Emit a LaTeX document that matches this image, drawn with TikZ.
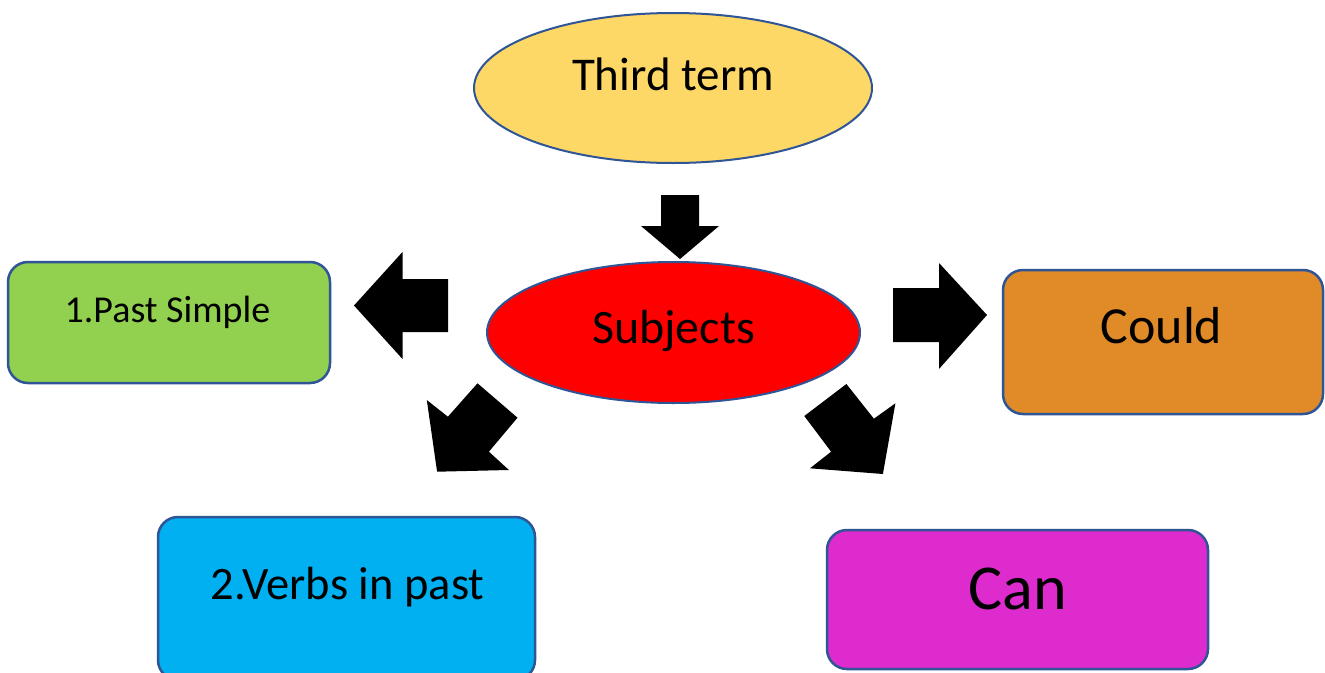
\documentclass[tikz,border=0pt]{standalone}
\usepackage{fontspec}
\setmainfont{Carlito}
\usetikzlibrary{shapes.geometric}
\definecolor{bordblue}{HTML}{2F5597}
\definecolor{cyellow}{HTML}{FDD866}
\definecolor{cred}{HTML}{FF0000}
\definecolor{cgreen}{HTML}{92D050}
\definecolor{corange}{HTML}{E08A28}
\definecolor{cblue}{HTML}{00B0F0}
\definecolor{cmag}{HTML}{DD2BCD}
\tikzset{
  oval/.style={ellipse, draw=bordblue, line width=2pt, inner sep=0pt},
  rbox/.style={rectangle, rounded corners=20pt, draw=bordblue, line width=2.5pt, inner sep=0pt},
  lbl/.style={anchor=base, inner sep=0pt, text=black},
  blockarrow/.style={fill=black, draw=none}
}
\begin{document}
\begin{tikzpicture}[x=1pt,y=-1pt]
\useasboundingbox (0,0) rectangle (1325,672);
\clip (0,0) rectangle (1325,672);
\fill[white] (0,0) rectangle (1325,672);
% shapes
\node[oval, fill=cyellow, minimum width=398pt, minimum height=150pt] (third) at (673,88) {};
\node[oval, fill=cred, minimum width=373pt, minimum height=141pt] (subj) at (673.5,332.5) {};
\node[rbox, fill=cgreen, minimum width=322pt, minimum height=121pt] (past) at (169,322.5) {};
\node[rbox, fill=corange, minimum width=320pt, minimum height=144pt] (could) at (1163,342) {};
\node[rbox, fill=cblue, minimum width=377pt, minimum height=163pt] (verbs) at (346.5,598.5) {};
\node[rbox, fill=cmag, minimum width=381pt, minimum height=139pt] (can) at (1017.5,599.5) {};
% texts
\node[lbl, font=\fontsize{47}{50}\selectfont] (thirdt) at ([yshift=-2pt]third.center) {Third term};
\node[lbl, font=\fontsize{48}{52}\selectfont] (subjt) at ([yshift=-10.5pt]subj.center) {Subjects};
\node[lbl, font=\fontsize{38}{42}\selectfont] (pastt) at ([xshift=-1.5pt,yshift=0.5pt]past.center) {1.Past Simple};
\node[lbl, font=\fontsize{52}{56}\selectfont] (couldt) at ([xshift=-1.5pt,yshift=-1pt]could.center) {Could};
\node[lbl, font=\fontsize{46.5}{50}\selectfont] (verbst) at ([xshift=1pt,yshift=-0.5pt]verbs.center) {2.Verbs in past};
\node[lbl, font=\fontsize{64}{68}\selectfont] (cant) at ([yshift=-9.5pt]can.center) {Can};
% block arrows
\fill[blockarrow] (661,195) -- (699,195) -- (699,226) -- (719,226) -- (680,259) -- (641,226) -- (661,226) -- cycle;
\fill[blockarrow] (448,279) -- (448,332) -- (402.5,332) -- (402.5,359) -- (354,305.5) -- (402.5,252) -- (402.5,279) -- cycle;
\fill[blockarrow] (893,288) -- (939,288) -- (939,263) -- (987,315) -- (939,369) -- (939,342) -- (893,342) -- cycle;
\fill[blockarrow] (477.5,383.3) -- (517.5,417.7) -- (488.9,451.7) -- (508.9,470) -- (437.1,471.7) -- (426.8,400) -- (447.9,416.7) -- cycle;
\fill[blockarrow] (846.4,384) -- (873.9,418.7) -- (895.4,403.3) -- (882.9,474) -- (810,468.3) -- (831.1,451.7) -- (804.3,416) -- cycle;
\end{tikzpicture}
\end{document}
